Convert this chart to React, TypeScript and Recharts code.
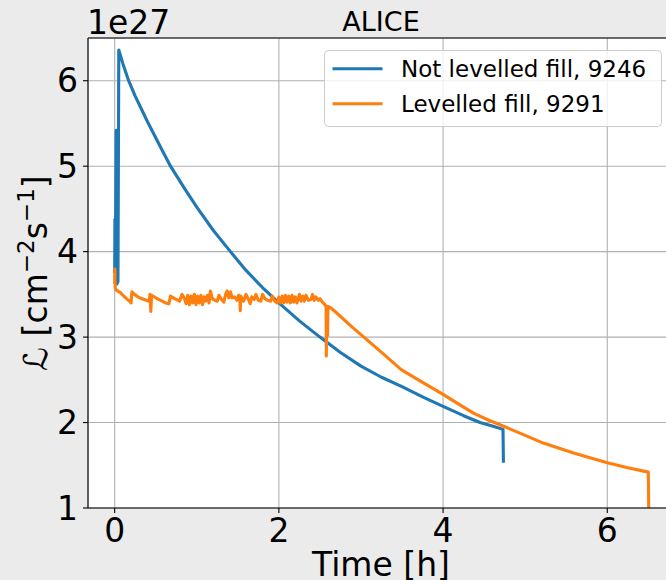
import React from 'react';
import { LineChart, Line, XAxis, YAxis, CartesianGrid, ReferenceLine, Legend } from 'recharts';

// time [h] and luminosity [1e27 cm^-2 s^-1]
const blueTime = [0, 0.003, 0.008, 0.018, 0.025, 0.04, 0.05, 0.1, 0.17, 0.25, 0.4, 0.55, 0.68, 0.85, 1.0, 1.2, 1.41, 1.6, 1.8, 2.0, 2.25, 2.5, 2.75, 3.0, 3.25, 3.5, 3.75, 4.0, 4.25, 4.45, 4.6, 4.73, 4.735];
const blueLumi = [3.75, 4.38, 3.7, 5.42, 3.62, 3.65, 6.36, 6.2, 6.0, 5.82, 5.52, 5.24, 5.0, 4.74, 4.52, 4.25, 4.0, 3.78, 3.58, 3.4, 3.19, 3.0, 2.82, 2.66, 2.53, 2.42, 2.3, 2.19, 2.08, 2.0, 1.96, 1.92, 1.53];

const orangeTime = [
  0, 0.003, 0.006, 0.02, 0.07, 0.12, 0.18, 0.2, 0.21, 0.24, 0.3, 0.36, 0.42, 0.43, 0.44, 0.45, 0.5, 0.56, 0.62, 0.66,
  0.68, 0.73, 0.79, 0.82, 0.85, 0.87, 0.89, 0.91, 0.93, 0.95, 0.97, 0.99, 1.01, 1.03, 1.05, 1.07, 1.09, 1.11, 1.13, 1.15,
  1.165, 1.19, 1.22, 1.25, 1.27, 1.3, 1.33, 1.35, 1.37, 1.39, 1.41, 1.43, 1.46, 1.49, 1.51, 1.525, 1.53, 1.535, 1.57, 1.6,
  1.63, 1.65, 1.67, 1.7, 1.72, 1.75, 1.78, 1.8, 1.83, 1.86, 1.9, 1.92, 1.95, 1.98, 2.0, 2.02, 2.04, 2.06, 2.08, 2.1,
  2.12, 2.14, 2.16, 2.18, 2.2, 2.22, 2.25, 2.27, 2.29, 2.31, 2.33, 2.36, 2.39, 2.41, 2.43, 2.45, 2.48, 2.5, 2.53, 2.56,
  2.575, 2.578, 2.582, 2.59, 2.593, 2.597, 2.62, 2.66, 2.9, 3.07, 3.3, 3.49, 3.75, 4.0, 4.2, 4.37, 4.55, 4.73, 5.0, 5.22,
  5.6, 6.0, 6.25, 6.5, 6.505,
];
const orangeLumi = [
  3.62, 3.8, 3.58, 3.55, 3.52, 3.47, 3.42, 3.4, 3.53, 3.5, 3.46, 3.44, 3.42, 3.5, 3.3, 3.49, 3.46, 3.43, 3.4, 3.39,
  3.48, 3.45, 3.42, 3.5, 3.45, 3.39, 3.49, 3.38, 3.48, 3.4, 3.5, 3.38, 3.48, 3.4, 3.49, 3.38, 3.47, 3.42, 3.49, 3.4,
  3.54, 3.45, 3.43, 3.42, 3.49, 3.44, 3.41, 3.5, 3.54, 3.46, 3.53, 3.46, 3.47, 3.43, 3.49, 3.46, 3.31, 3.48, 3.42, 3.5,
  3.44, 3.39, 3.47, 3.44, 3.5, 3.43, 3.42, 3.5, 3.45, 3.43, 3.42, 3.48, 3.42, 3.4, 3.47, 3.4, 3.48, 3.4, 3.49, 3.41,
  3.48, 3.4, 3.49, 3.41, 3.47, 3.4, 3.5, 3.42, 3.48, 3.42, 3.49, 3.43, 3.44, 3.5, 3.43, 3.47, 3.43, 3.45, 3.41, 3.38,
  3.36, 2.78, 3.34, 3.35, 3.02, 3.36, 3.35, 3.32, 3.11, 2.97, 2.78, 2.62, 2.47, 2.33, 2.21, 2.11, 2.03, 1.96, 1.85, 1.76,
  1.64, 1.53, 1.47, 1.42, 1.0,
];

const xTicks = [0, 2, 4, 6];
const yTicks = [1, 2, 3, 4, 5, 6];
const seriesNames = ['Not levelled fill, 9246', 'Levelled fill, 9291'];

const blueData = blueTime.map((t, i) => ({ t, lumi: blueLumi[i] }));
const orangeData = orangeTime.map((t, i) => ({ t, lumi: orangeLumi[i] }));

const FONT = '"DejaVu Sans", sans-serif';
const BLUE = '#1f77b4';
const ORANGE = '#ff7f0e';
const LW = 3.1;

function LegendBox({ payload }: any) {
  // keep the plotting order (blue first), recharts may hand them over reversed
  const items = [...(payload || [])].sort(
    (a: any, b: any) => seriesNames.indexOf(a.value) - seriesNames.indexOf(b.value)
  );
  return (
    <svg width={339} height={78} style={{ display: 'block' }}>
      <rect x={0.5} y={0.5} width={337} height={76} rx={4} fill="#fff" fillOpacity={0.8} stroke="#cccccc" />
      {items.map((p: any, i: number) => (
        <g key={i}>
          <line x1={8.5} x2={58.5} y1={18.8 + i * 35} y2={18.8 + i * 35} stroke={p.color} strokeWidth={LW} />
          <text x={77} y={26.8 + i * 35} fontFamily={FONT} fontSize={23} fill="#000">{p.value}</text>
        </g>
      ))}
    </svg>
  );
}

function YLabel() {
  return (
    <text x={47} y={273} transform="rotate(-90, 47, 273)" textAnchor="middle" fontFamily={FONT} fontSize={33} fill="#000">
      <tspan fontStyle="italic">ℒ</tspan>
      <tspan> [cm</tspan>
      <tspan dy={-13} fontSize={23}>−2</tspan>
      <tspan dy={13}>s</tspan>
      <tspan dy={-13} fontSize={23}>−1</tspan>
      <tspan dy={13}>]</tspan>
    </text>
  );
}

function XLabel() {
  return (
    <text x={381} y={576} textAnchor="middle" fontFamily={FONT} fontSize={33} fill="#000">Time [h]</text>
  );
}

export default function App() {
  return (
    <div style={{ position: 'relative', width: 666, height: 580, overflow: 'hidden', background: '#ebebeb' }}>
      <style>{'body{margin:0}'}</style>
      <LineChart width={690} height={580} margin={{ top: 38, right: 15, bottom: 0, left: 0 }}>
        <CartesianGrid stroke="#b0b0b0" strokeWidth={1.1} fill="#ffffff" fillOpacity={1} />
        <XAxis
          dataKey="t"
          type="number"
          domain={[-0.325, 6.825]}
          ticks={xTicks}
          allowDataOverflow
          height={72}
          stroke="#000"
          strokeWidth={1.1}
          tickSize={5}
          tickMargin={6}
          tick={{ fill: '#000', fontSize: 33, fontFamily: FONT }}
          label={<XLabel />}
        />
        <YAxis
          type="number"
          domain={[1, 6.5]}
          ticks={yTicks}
          allowDataOverflow
          width={88}
          stroke="#000"
          strokeWidth={1.1}
          tickSize={5}
          tickMargin={5}
          tick={{ fill: '#000', fontSize: 33, fontFamily: FONT }}
          label={<YLabel />}
        />
        <ReferenceLine y={6.5} stroke="#000" strokeWidth={1.1} />
        <Line data={blueData} dataKey="lumi" name={seriesNames[0]} type="linear" stroke={BLUE} strokeWidth={LW} dot={false} isAnimationActive={false} strokeLinejoin="round" />
        <Line data={orangeData} dataKey="lumi" name={seriesNames[1]} type="linear" stroke={ORANGE} strokeWidth={LW} dot={false} isAnimationActive={false} strokeLinejoin="round" />
        <Legend
          layout="vertical"
          align="center"
          verticalAlign="middle"
          content={<LegendBox />}
          wrapperStyle={{ left: 324, top: 50, width: 339, height: 78, right: 'auto', bottom: 'auto' }}
        />
      </LineChart>
      <svg width={666} height={40} style={{ position: 'absolute', left: 0, top: 0, pointerEvents: 'none' }}>
        <text x={87} y={34} fontFamily={FONT} fontSize={33} fill="#000">1e27</text>
        <text x={381} y={31} textAnchor="middle" fontFamily={FONT} fontSize={27} fill="#000">ALICE</text>
      </svg>
    </div>
  );
}
